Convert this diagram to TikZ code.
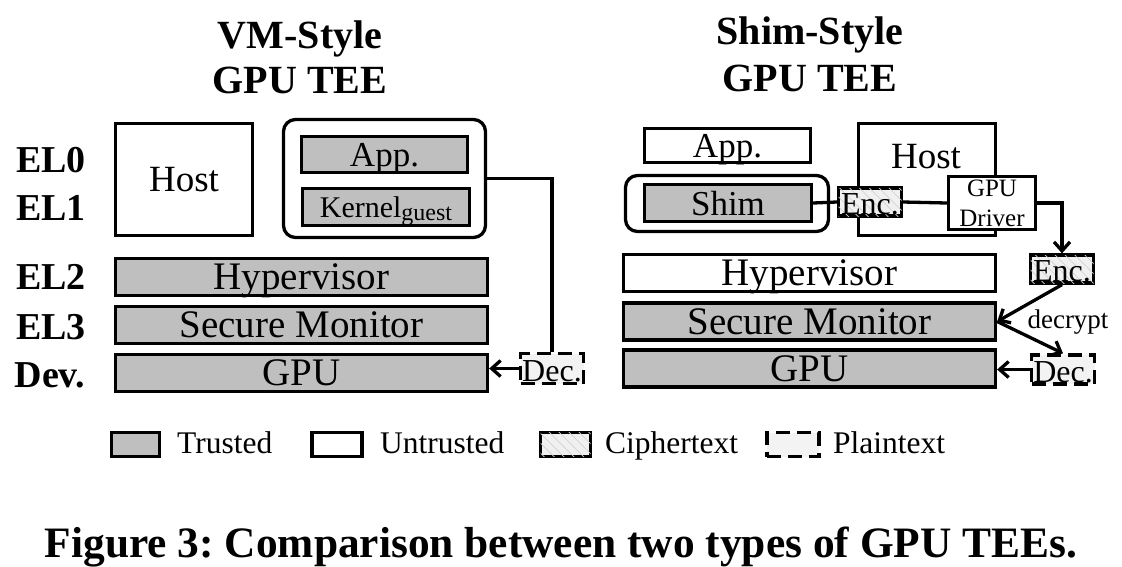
\documentclass[tikz,border=0pt]{standalone}
\usepackage{fontspec}
\setmainfont{Liberation Serif}
\frenchspacing
\usetikzlibrary{arrows.meta,patterns.meta}
\definecolor{trustgray}{RGB}{191,191,191}
\definecolor{plaingray}{RGB}{243,243,243}
\definecolor{ciphergray}{RGB}{240,240,240}
\newcommand{\fsz}[1]{\fontsize{#1}{#1}\selectfont}
\tikzset{
  box/.style={draw,line width=3.3pt,inner sep=0pt,text depth=0pt,font=\fsz{39}},
  trusted/.style={box,fill=trustgray},
  untrusted/.style={box,fill=white},
  cipher/.style={box,fill=ciphergray,font=\fsz{32},text height=25pt,
    postaction={pattern={Lines[angle=-45,distance=7pt,line width=0.7pt]},pattern color=gray!35}},
  plain/.style={box,fill=plaingray,dash pattern=on 14pt off 7pt,font=\fsz{32},text height=25pt},
  level/.style={font=\bfseries\fsz{38}},
  heading/.style={anchor=base,font=\bfseries\fsz{40}},
  legtext/.style={anchor=base west,inner sep=0pt,font=\fsz{31.5}},
  wire/.style={line width=3.3pt},
  flow/.style={wire,-{Straight Barb[length=9pt,width=16pt]}},
}
\begin{document}
\begin{tikzpicture}[x=1pt,y=-1pt]
\useasboundingbox (0,0) rectangle (1122,566);
%\draw[step=50,gray,very thin] (0,0) grid (1122,566); %background grid
% titles
\node[heading] (tvm1) at (300,48) {VM-Style};
\node[heading] (tvm2) at (300,93) {GPU TEE};
\node[heading] (tsh1) at (810,44) {Shim-Style};
\node[heading] (tsh2) at (810,91) {GPU TEE};
% exception levels
\node[level] (el0) at (51,160) {EL0};
\node[level] (el1) at (51,208) {EL1};
\node[level] (el2) at (51,277) {EL2};
\node[level] (el3) at (51,327) {EL3};
\node[level] (dev) at (50,375) {Dev.};
% VM-style
\node[untrusted,minimum width=137pt,minimum height=112pt,font=\fsz{37}] (hostL) at (184,179.5) {Host};
\node[untrusted,rounded corners=12pt,minimum width=202pt,minimum height=118pt] (vmL) at (384.5,178.5) {};
\node[trusted,minimum width=166pt,minimum height=36pt,font=\fsz{35}] (appL) at (384.5,154.5) {App.};
\node[trusted,minimum width=167pt,minimum height=37pt,font=\fsz{30}] (kernelL) at (386,207) {Kernel\raisebox{-3pt}{\fsz{24}guest}};
\node[trusted,minimum width=372pt,minimum height=37pt] (hypL) at (301.5,277) {Hypervisor};
\node[trusted,minimum width=372pt,minimum height=37pt] (smL) at (301.5,325) {Secure Monitor};
\node[trusted,minimum width=372pt,minimum height=37pt] (gpuL) at (301.5,373) {GPU};
\node[plain,minimum width=63pt,minimum height=30pt] (decL) at (552,368.5) {Dec.};
\draw[wire] (vmL.east) -| (decL.north);
\draw[flow] (decL.west) -- (decL.west -| gpuL.east);
% Shim-style
\node[untrusted,minimum width=166pt,minimum height=34pt,font=\fsz{35}] (appR) at (727.5,145.5) {App.};
\node[untrusted,rounded corners=12pt,minimum width=203pt,minimum height=56pt] (shimOut) at (727,203.5) {};
\node[trusted,minimum width=167pt,minimum height=37pt,font=\fsz{35}] (shimR) at (728,203) {Shim};
\node[untrusted,minimum width=137pt,minimum height=112pt] (hostR) at (927,179.5) {};
\node[font=\fsz{37},text depth=0pt] (hostRtxt) at (926,156) {Host};
\node[cipher,minimum width=63pt,minimum height=28pt] (enc1) at (870,202) {Enc.};
\node[untrusted,minimum width=87pt,minimum height=53pt,align=center,font=\fontsize{25}{30}\selectfont] (drv) at (992,203) {GPU\\Driver};
\node[cipher,minimum width=63pt,minimum height=28pt] (enc2) at (1062,269) {Enc.};
\node[untrusted,minimum width=372pt,minimum height=37pt] (hypR) at (809.5,273) {Hypervisor};
\node[trusted,minimum width=372pt,minimum height=37pt] (smR) at (809.5,321.5) {Secure Monitor};
\node[trusted,minimum width=372pt,minimum height=37pt] (gpuR) at (809.5,368.5) {GPU};
\node[plain,minimum width=63pt,minimum height=29pt] (decR) at (1063,369.5) {Dec.};
\node[font=\fsz{27}] (decrypt) at (1068,322) {decrypt};
\draw[wire] (shimR.east) -- (enc1.west);
\draw[wire] (enc1.east) -- (drv.west);
\draw[flow] (drv.east) -| (enc2.north);
\draw[flow] (enc2.south) -- (smR.east);
\draw[flow] (smR.east) -- (decR.north);
\draw[flow] (decR.west) -- (decR.west -| gpuR.east);
% legend
\node[trusted,minimum width=48pt,minimum height=24pt] (legT) at (135.5,444.5) {};
\node[legtext] (legTt) at (177,453) {Trusted};
\node[untrusted,minimum width=50pt,minimum height=24pt] (legU) at (337,444.5) {};
\node[legtext] (legUt) at (380,453) {Untrusted};
\node[cipher,minimum width=50pt,minimum height=24pt,text height=0pt] (legC) at (565.5,444.5) {};
\node[legtext] (legCt) at (605,453) {Ciphertext};
\node[plain,minimum width=52pt,minimum height=24pt,text height=0pt] (legP) at (793,444.5) {};
\node[legtext] (legPt) at (833,453) {Plaintext};
% caption
\node[anchor=base,font=\bfseries\fsz{43.4}] (caption) at (561,557) {Figure 3: Comparison between two types of GPU TEEs.};
\end{tikzpicture}
\end{document}
